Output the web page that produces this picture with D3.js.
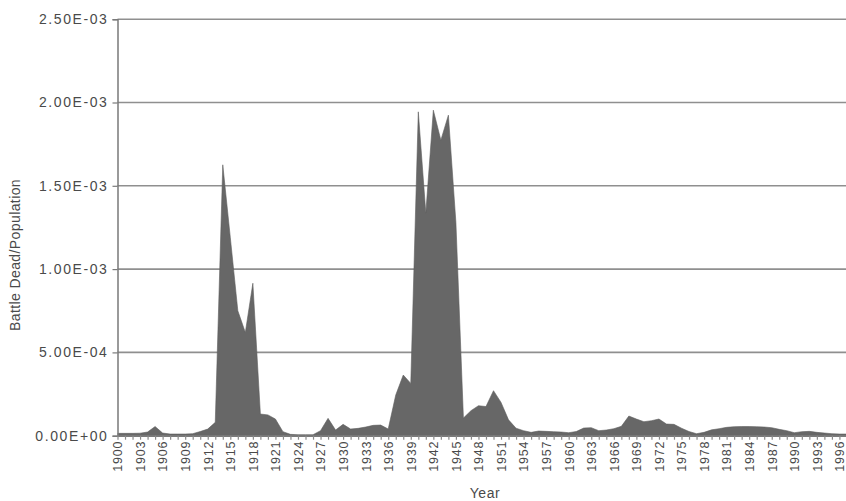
<!DOCTYPE html>
<html>
<head>
<meta charset="utf-8">
<script src="https://cdn.jsdelivr.net/npm/d3@7"></script>
<style>
  html, body { margin: 0; padding: 0; background: #fff; }
  svg { display: block; }
  text { font-family: "Liberation Sans", Arial, sans-serif; fill: #4a4a4a; }
</style>
</head>
<body>
<svg id="chart" width="846" height="501"></svg>
<script>
// ---- Data ----
const years = d3.range(1900, 1998);
const battleDeadRatio = [
  1.4e-5, 1.4e-5, 1.4e-5, 1.5e-5, 2.2e-5, 5.5e-5, 1.6e-5, 1.0e-5, 1.0e-5, 1.0e-5, // 1900-1909
  1.2e-5, 2.5e-5, 4.0e-5, 8.0e-5, 1.626e-3, 1.19e-3, 7.5e-4, 6.2e-4, 9.15e-4, 1.3e-4, // 1910-1919
  1.25e-4, 1.0e-4, 2.4e-5, 8e-6, 6e-6, 6e-6, 6e-6, 3.0e-5, 1.04e-4, 3.4e-5,          // 1920-1929
  6.8e-5, 4.0e-5, 4.4e-5, 5.2e-5, 6.2e-5, 6.4e-5, 4.0e-5, 2.44e-4, 3.64e-4, 3.14e-4,  // 1930-1939
  1.944e-3, 1.336e-3, 1.954e-3, 1.774e-3, 1.924e-3, 1.28e-3, 1.06e-4, 1.5e-4, 1.8e-4, 1.75e-4, // 1940-1949
  2.7e-4, 2.0e-4, 9.5e-5, 4.5e-5, 3.0e-5, 2.0e-5, 2.8e-5, 2.6e-5, 2.4e-5, 2.2e-5,     // 1950-1959
  1.8e-5, 2.5e-5, 4.6e-5, 4.8e-5, 3.0e-5, 3.4e-5, 4.2e-5, 5.6e-5, 1.18e-4, 1.0e-4,    // 1960-1969
  8.4e-5, 9.0e-5, 1.0e-4, 7.0e-5, 6.8e-5, 4.5e-5, 2.5e-5, 1.2e-5, 2.0e-5, 3.5e-5,     // 1970-1979
  4.2e-5, 5.0e-5, 5.4e-5, 5.5e-5, 5.5e-5, 5.4e-5, 5.2e-5, 4.8e-5, 3.8e-5, 3.0e-5,     // 1980-1989
  1.8e-5, 2.4e-5, 2.6e-5, 2.0e-5, 1.6e-5, 1.2e-5, 1.0e-5, 1.0e-5                      // 1990-1997
];
const yTicks = [0, 5e-4, 1e-3, 1.5e-3, 2e-3, 2.5e-3];
const yTickLabels = ["0.00E+00", "5.00E-04", "1.00E-03", "1.50E-03", "2.00E-03", "2.50E-03"];
const xTickYears = d3.range(1900, 1997, 3);
const xTitle = "Year";
const yTitle = "Battle Dead/Population";

// ---- Layout ----
const svg = d3.select("#chart");
const mLeft = 117.5, mBottom = 435.7, mTop = 19.2, mRight = 846;
const x = d3.scalePoint().domain(years).range([mLeft, mLeft + 97 * 7.52]);
const y = d3.scaleLinear().domain([0, 2.5e-3]).range([mBottom, mTop]);

const data = years.map((yr, i) => ({ year: yr, v: battleDeadRatio[i] }));

// clip
svg.append("clipPath").attr("id", "clip")
  .append("rect").attr("x", mLeft).attr("y", 0).attr("width", mRight - mLeft).attr("height", 501);

// gridlines
svg.append("g").selectAll("line").data(yTicks.slice(1)).join("line")
  .attr("x1", mLeft).attr("x2", mRight)
  .attr("y1", d => y(d)).attr("y2", d => y(d))
  .attr("stroke", "#8f8f8f").attr("stroke-width", 1.6);

// area
const area = d3.area()
  .x(d => x(d.year))
  .y0(y(0))
  .y1(d => y(d.v));
svg.append("path").datum(data)
  .attr("clip-path", "url(#clip)")
  .attr("d", area)
  .attr("fill", "#676767")
  .attr("stroke", "#5e5e5e").attr("stroke-width", 0.6);

// y axis
const yAxis = d3.axisLeft(y).tickValues(yTicks)
  .tickFormat((d, i) => yTickLabels[i]).tickSize(5).tickPadding(4);
const gy = svg.append("g").attr("transform", `translate(${mLeft},0)`).call(yAxis);
gy.select(".domain").attr("stroke", "#7a7a7a").attr("stroke-width", 1.5);
gy.selectAll(".tick line").attr("stroke", "#7a7a7a").attr("stroke-width", 1.2);
gy.selectAll(".tick text").style("font-size", "14px").attr("fill", "#4a4a4a")
  .style("letter-spacing", "1.6px")
  .style("font-family", "'Liberation Sans', Arial, sans-serif");

// x axis: small ticks each year, labels every 3 years
const xAxis = d3.axisBottom(x).tickValues(years)
  .tickFormat(d => xTickYears.includes(d) ? String(d) : "").tickSize(4).tickSizeOuter(0);
const gx = svg.append("g").attr("transform", `translate(0,${mBottom})`).call(xAxis);
gx.select(".domain").attr("stroke", "#7a7a7a").attr("stroke-width", 1.5);
gx.selectAll(".tick line").attr("stroke", "#8a8a8a").attr("stroke-width", 1.2);
gx.selectAll(".tick text")
  .style("font-size", "12.5px")
  .style("letter-spacing", "0.8px")
  .style("font-family", "'Liberation Sans', Arial, sans-serif")
  .attr("fill", "#4a4a4a")
  .attr("transform", "rotate(-90)")
  .attr("text-anchor", "end")
  .attr("dy", "0.35em")
  .attr("x", -5).attr("y", 0);

// titles
svg.append("text").attr("x", 485).attr("y", 498)
  .attr("text-anchor", "middle").style("font-size", "14px").style("letter-spacing", "0.6px").text(xTitle);
svg.append("text")
  .attr("transform", `translate(20,${255}) rotate(-90)`)
  .attr("text-anchor", "middle").style("font-size", "14px").style("letter-spacing", "0.4px").text(yTitle);
</script>
</body>
</html>
